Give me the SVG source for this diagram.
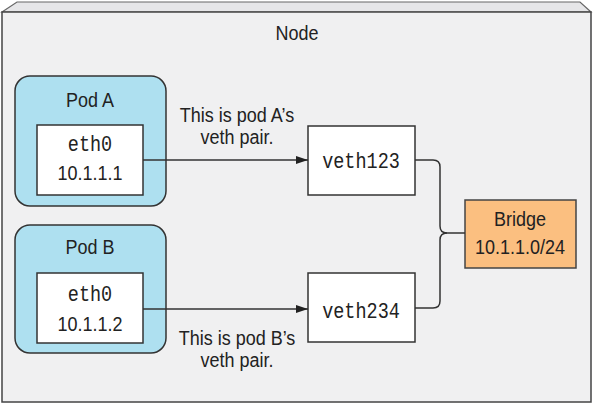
<svg xmlns="http://www.w3.org/2000/svg" width="593" height="404" viewBox="0 0 593 404">
<style>
.s{font-family:"Liberation Sans",Arial,sans-serif;font-size:18px;fill:#222;text-anchor:middle}
.m{font-family:"Liberation Mono","Courier New",monospace;font-size:18.5px;fill:#222;text-anchor:middle}
.pod{fill:#aee0f0;stroke:#333;stroke-width:1.5}
.box{fill:#fff;stroke:#333;stroke-width:1.5}
.ln{fill:none;stroke:#333;stroke-width:1.5}
</style>
<defs>
<marker id="ah" markerWidth="12" markerHeight="8" refX="12" refY="4" orient="auto" markerUnits="userSpaceOnUse">
<path d="M0,0 L12,4 L0,8 Z" fill="#222"/>
</marker>
</defs>
<g id="node">
<path d="M2,12 L17,2 L580,2 L591,12 Z" fill="#e6e6e8" stroke="#666" stroke-width="1.2"/>
<rect x="2" y="12" width="589" height="390" fill="#f0f0f1" stroke="#444" stroke-width="1.5"/>
<text class="s" transform="translate(297,40) scale(1,1.15)">Node</text>
</g>
<g id="podA">
<rect class="pod" x="15" y="76" width="151" height="130" rx="15"/>
<text class="s" transform="translate(90,107) scale(1,1.15)">Pod A</text>
<rect class="box" x="37" y="125" width="106" height="70"/>
<text class="m" transform="translate(90,151) scale(1,1.15)">eth0</text>
<text class="s" transform="translate(90,180) scale(1,1.15)">10.1.1.1</text>
</g>
<g id="podB">
<rect class="pod" x="15" y="225" width="151" height="128" rx="15"/>
<text class="s" transform="translate(90,254) scale(1,1.15)">Pod B</text>
<rect class="box" x="37" y="273" width="106" height="70"/>
<text class="m" transform="translate(90,301) scale(1,1.15)">eth0</text>
<text class="s" transform="translate(90,331) scale(1,1.15)">10.1.1.2</text>
</g>
<g id="veth123">
<rect class="box" x="308" y="126" width="107" height="69"/>
<text class="m" transform="translate(361,168) scale(1,1.15)">veth123</text>
</g>
<g id="veth234">
<rect class="box" x="308" y="273" width="107" height="69"/>
<text class="m" transform="translate(361,318) scale(1,1.15)">veth234</text>
</g>
<g id="bridge">
<rect x="465" y="200" width="111" height="68" fill="#fbbf80" stroke="#444" stroke-width="1.5"/>
<text class="s" transform="translate(520,226) scale(1,1.15)">Bridge</text>
<text class="s" transform="translate(520,254) scale(1,1.15)">10.1.1.0/24</text>
</g>
<g id="connectors">
<path class="ln" d="M143,160 L308,160" marker-end="url(#ah)"/>
<path class="ln" d="M143,309 L308,309" marker-end="url(#ah)"/>
<path class="ln" d="M415,160 L433,160 Q440,160 440,167 L440,226 Q440,233 447,233 L465,233"/>
<path class="ln" d="M415,308 L433,308 Q440,308 440,301 L440,240 Q440,233 447,233"/>
</g>
<g id="labels">
<text class="s" transform="translate(237,122) scale(1,1.12)">This is pod A’s</text>
<text class="s" transform="translate(237,144) scale(1,1.12)">veth pair.</text>
<text class="s" transform="translate(237,345) scale(1,1.12)">This is pod B’s</text>
<text class="s" transform="translate(237,367) scale(1,1.12)">veth pair.</text>
</g>
</svg>
